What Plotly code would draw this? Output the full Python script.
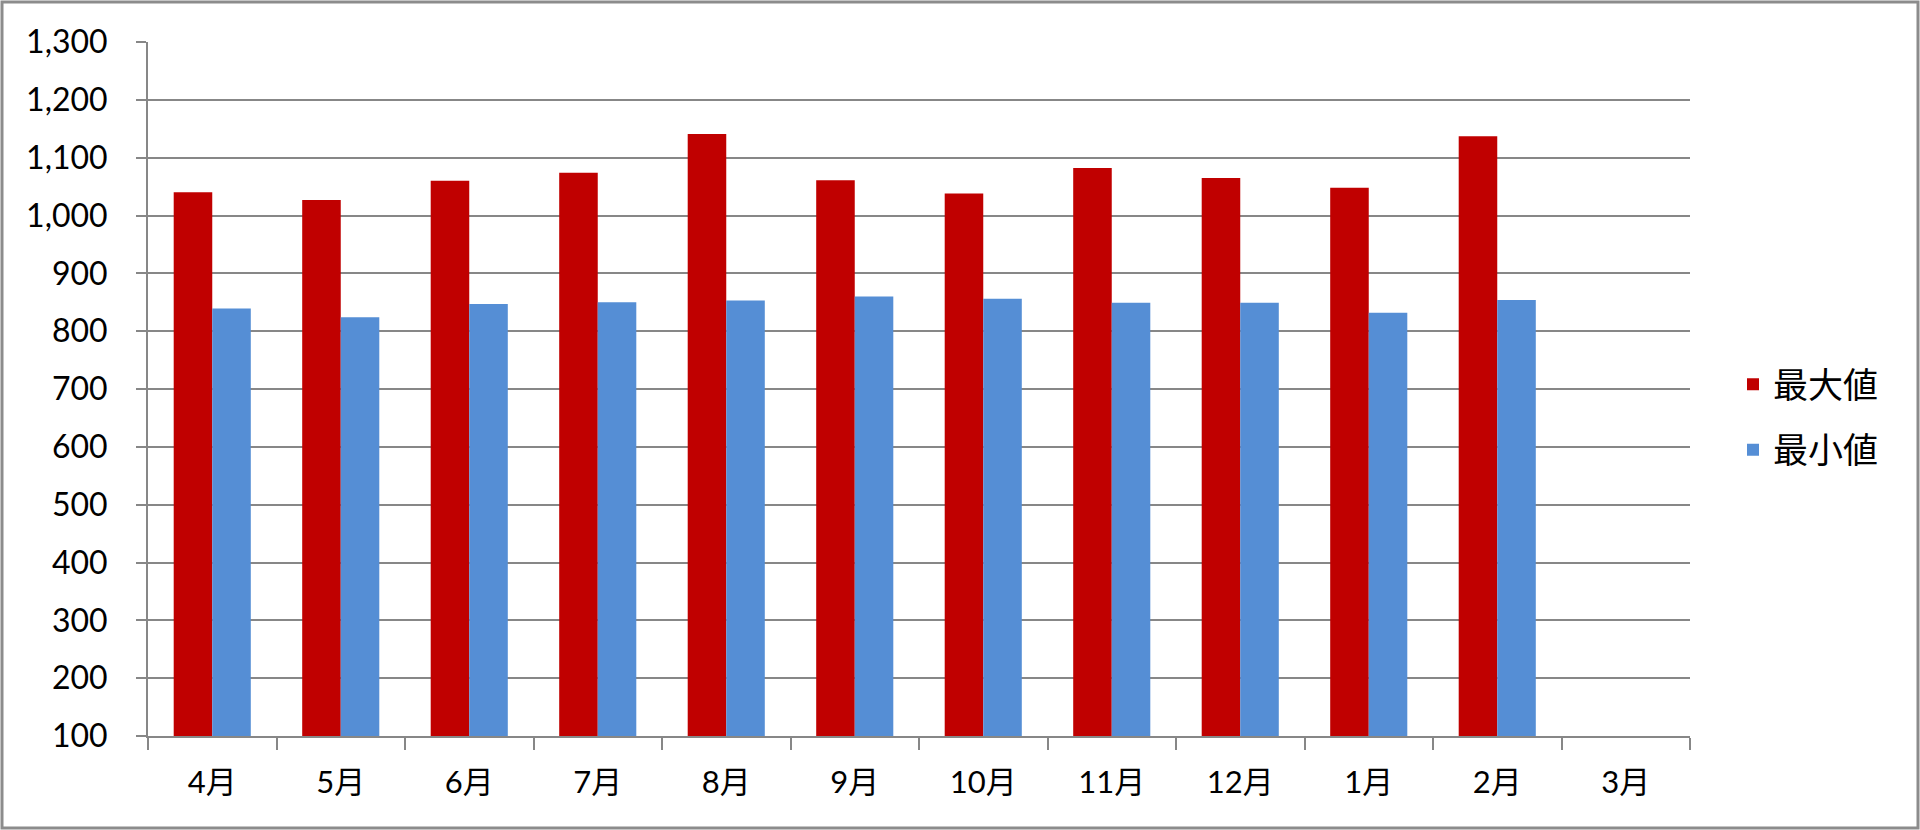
import plotly.graph_objects as go

months = ["4月", "5月", "6月", "7月", "8月", "9月", "10月", "11月", "12月", "1月", "2月", "3月"]
max_vals = [1040, 1027, 1060, 1074, 1141, 1061, 1038, 1082, 1065, 1048, 1137, None]
min_vals = [839, 824, 847, 850, 853, 860, 856, 849, 849, 832, 854, None]
series_names = ["最大値", "最小値"]
y_ticks = list(range(100, 1301, 100))

FONT = "Lato, 'Noto Sans CJK JP', sans-serif"
GRID = "#878787"

fig = go.Figure()
fig.add_trace(go.Bar(x=months, y=max_vals, name=series_names[0], marker_color="#C00000",
                     marker_line_width=0, legendgroup="a"))
fig.add_trace(go.Bar(x=months, y=min_vals, name=series_names[1], marker_color="#558ED5",
                     marker_line_width=0, legendgroup="b"))

W, H = 1920, 830
ml, mr, mt, mb = 148, 230, 42, 94
pw, ph = W - ml - mr, H - mt - mb

fig.update_layout(
    width=W, height=H,
    margin=dict(l=ml, r=mr, t=mt, b=mb),
    paper_bgcolor="white", plot_bgcolor="white",
    barmode="group", bargap=0.40, bargroupgap=0,
    font=dict(family=FONT, size=31, color="black"),
    showlegend=True,
    legend=dict(x=(1733 - ml) / pw, xanchor="left", y=(mt + ph - 417) / ph, yanchor="middle",
                font=dict(size=35, family="'Noto Sans CJK JP', sans-serif"),
                tracegroupgap=17, traceorder="grouped", bgcolor="rgba(0,0,0,0)"),
    xaxis=dict(type="category", categoryarray=months, showgrid=False,
               showline=True, linecolor=GRID, linewidth=2,
               ticks="outside", tickson="boundaries", ticklen=12, tickwidth=2, tickcolor=GRID,
               ticklabelstandoff=18, tickfont=dict(size=31)),
    yaxis=dict(range=[100, 1300], tickvals=y_ticks, tickformat=",d",
               showgrid=True, gridcolor=GRID, gridwidth=2,
               showline=True, linecolor=GRID, linewidth=2,
               ticks="outside", ticklen=10, tickwidth=2, tickcolor=GRID,
               ticklabelstandoff=22, tickfont=dict(size=32), zeroline=False),
    shapes=[dict(type="rect", xref="paper", yref="paper",
                 x0=-(ml - 2) / pw, x1=1 + (mr - 2) / pw,
                 y0=-(mb - 2) / ph, y1=1 + (mt - 2) / ph,
                 line=dict(color="#8C8C8C", width=3), fillcolor="rgba(0,0,0,0)", layer="below")],
)

fig.write_html("out.html", config={"displayModeBar": False},
               post_script="document.body.style.margin='0';document.body.style.overflow='hidden';")
